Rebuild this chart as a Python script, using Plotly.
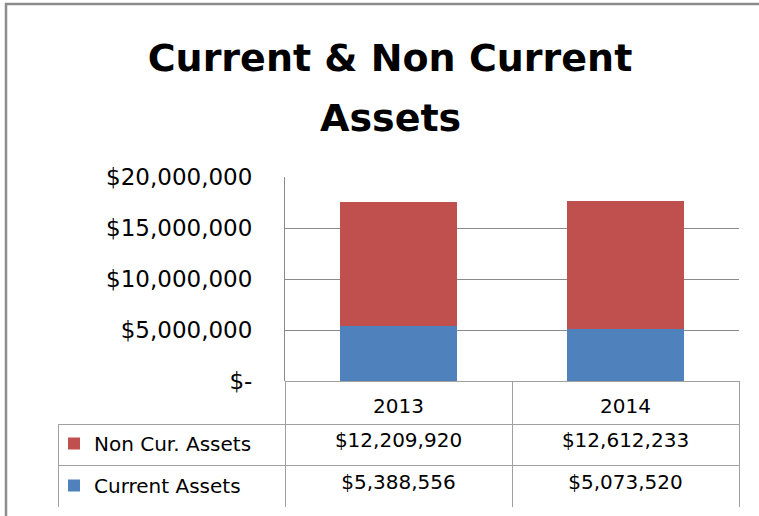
import plotly.graph_objects as go

# ---- data ----
years = ["2013", "2014"]
series_names = ["Non Cur. Assets", "Current Assets"]
non_current = [12209920, 12612233]
current = [5388556, 5073520]
tick_vals = [0, 5000000, 10000000, 15000000, 20000000]
tick_text = ["$-", "$5,000,000", "$10,000,000", "$15,000,000", "$20,000,000"]
title_lines = ["Current & Non Current", "Assets"]

# ---- style ----
RED = "#C0504D"
BLUE = "#4F81BD"
GRID = "#8A8A8A"
TABLE_LINE = "#A0A0A0"
FONT = "DejaVu Sans"
W, H = 759, 516
CLEAR = "rgba(0,0,0,0)"


def px_x(p):
    return p / W


def px_y(p):
    return 1 - p / H


def money(v):
    return f"${v:,}"


fig = go.Figure()
fig.add_bar(x=years, y=current, name=series_names[1], marker=dict(color=BLUE, line=dict(width=0)),
            width=0.515, legend="legend2")
fig.add_bar(x=years, y=non_current, name=series_names[0], marker=dict(color=RED, line=dict(width=0)),
            width=0.515, legend="legend")

value_cols = [[money(non_current[i]), money(current[i])] for i in range(len(years))]

fig.add_table(
    domain=dict(x=[px_x(58), px_x(739)], y=[px_y(507), px_y(381)]),
    columnwidth=[1, 1, 1],
    header=dict(values=["", "", ""], height=43, align="center",
                fill=dict(color=CLEAR),
                line=dict(color=[CLEAR, TABLE_LINE, TABLE_LINE], width=1),
                font=dict(family=FONT, size=20, color="black")),
    cells=dict(values=[["", ""]] + value_cols, height=41.5,
               align=["left", "center", "center"],
               fill=dict(color="white"),
               line=dict(color=TABLE_LINE, width=1),
               font=dict(family=FONT, size=20, color="black")),
)

legend_common = dict(x=px_x(54), xanchor="left", yanchor="middle", bgcolor=CLEAR, borderwidth=0,
                     font=dict(family=FONT, size=20, color="black"))

fig.update_layout(
    width=W, height=H,
    template="none",
    barmode="stack",
    showlegend=True,
    paper_bgcolor="white",
    plot_bgcolor="white",
    margin=dict(l=0, r=0, t=0, b=0),
    font=dict(family=FONT, color="black"),
    title=dict(text=f"<b>{title_lines[0]}</b>", x=390 / W, xanchor="center", xref="paper",
               y=1 - 58 / H, yanchor="middle", yref="container",
               font=dict(family=FONT, size=38, color="black")),
    legend=dict(y=px_y(443.5), **legend_common),
    legend2=dict(y=px_y(485.5), **legend_common),
    xaxis=dict(domain=[px_x(285), px_x(739)], showticklabels=True, showgrid=False,
               showline=False, zeroline=False, automargin=False, ticks="",
               ticklabelstandoff=11, tickfont=dict(family=FONT, size=20, color="black")),
    yaxis=dict(domain=[px_y(381), px_y(177)], range=[0, 20000000], tickvals=tick_vals,
               ticktext=tick_text, showgrid=True, gridcolor=GRID, gridwidth=1,
               showline=True, linecolor=GRID, linewidth=1, zeroline=False,
               ticks="", ticklabelstandoff=27, automargin=False,
               tickfont=dict(family=FONT, size=23, color="black")),
    annotations=[dict(text=f"<b>{title_lines[1]}</b>", x=390 / W, xref="paper", xanchor="center",
                      y=px_y(118), yref="paper", yanchor="middle", showarrow=False,
                      font=dict(family=FONT, size=38, color="black"))],
    shapes=[dict(type="rect", xref="paper", yref="paper", x0=px_x(6), x1=1.2, y0=-0.2, y1=px_y(4),
                 line=dict(color="#8C8C8C", width=2.5), fillcolor=CLEAR, layer="above")],
)

fig.write_html("out.html", config={"displayModeBar": False},
               post_script="document.body.style.margin='0';")
